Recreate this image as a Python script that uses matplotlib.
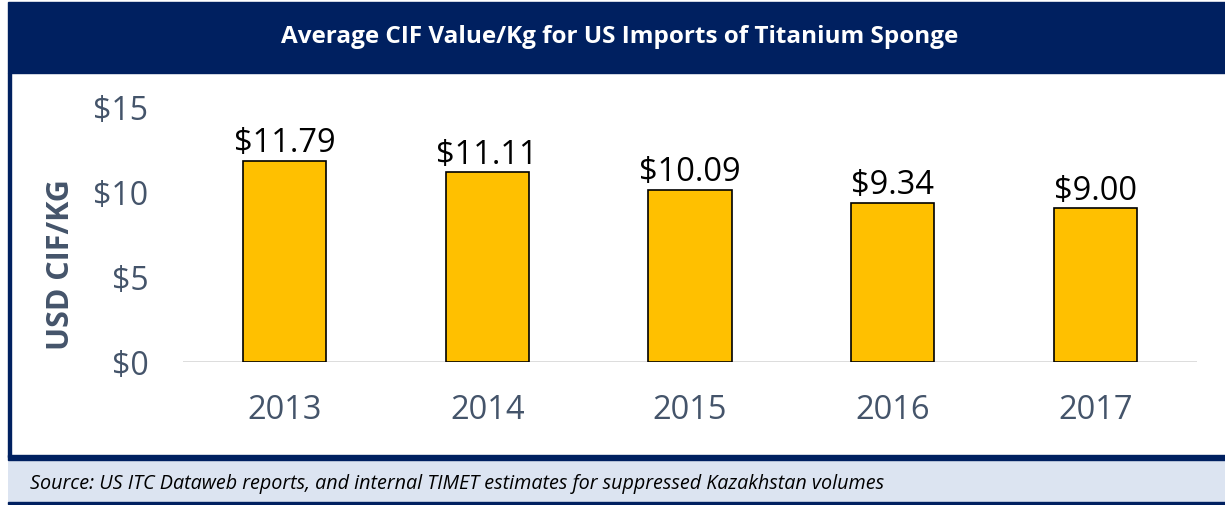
import matplotlib.pyplot as plt
from matplotlib.patches import Rectangle

years = ["2013", "2014", "2015", "2016", "2017"]
values = [11.79, 11.11, 10.09, 9.34, 9.00]
yticks = [0, 5, 10, 15]

navy = "#002060"
slate = "#44546A"
gold = "#FFC000"

plt.rcParams["font.family"] = ["Open Sans", "DejaVu Sans"]

W, H = 1225, 506
fig = plt.figure(figsize=(W / 100, H / 100), dpi=100)
fig.patch.set_facecolor("white")


def fx(px):
    return px / W


def fy(py):
    return 1 - py / H


# title bar
fig.patches.append(Rectangle((fx(8), fy(74)), 1 - fx(8), fy(3) - fy(74),
                             transform=fig.transFigure, color=navy, zorder=0))
fig.text(fx(620), fy(37), "Average CIF Value/Kg for US Imports of Titanium Sponge",
         color="white", fontsize=17.5, fontweight="bold", ha="center", va="center")

# left border
fig.patches.append(Rectangle((fx(8), fy(458)), fx(3), fy(74) - fy(458),
                             transform=fig.transFigure, color=navy, zorder=0))

# footer band
fig.patches.append(Rectangle((fx(8), fy(504)), 1 - fx(8), fy(458) - fy(504),
                             transform=fig.transFigure, facecolor="#DCE4F1",
                             edgecolor="none", zorder=0))
fig.patches.append(Rectangle((fx(8), fy(461)), 1 - fx(8), fy(456) - fy(461),
                             transform=fig.transFigure, color=navy, zorder=1))
fig.patches.append(Rectangle((fx(8), fy(505)), 1 - fx(8), fy(503) - fy(505),
                             transform=fig.transFigure, color=navy, zorder=1))
fig.text(fx(30), fy(484), "Source: US ITC Dataweb reports, and internal TIMET estimates for suppressed Kazakhstan volumes",
         fontsize=14.2, fontstyle="italic", color="black", ha="left", va="center")

# chart
ax = fig.add_axes([fx(183), fy(363), fx(1197) - fx(183), fy(107) - fy(363)])
ax.set_facecolor("none")
x = list(range(len(years)))
ax.bar(x, values, width=0.41, color=gold, edgecolor="black", linewidth=1.2, zorder=3)
for xi, v in zip(x, values):
    ax.text(xi, v + 0.1, f"${v:.2f}", ha="center", va="bottom", fontsize=23.5, color="black")

ax.set_xlim(-0.5, 4.5)
ax.set_ylim(0, 15)
ax.set_yticks(yticks)
ax.set_yticklabels([f"${t}" for t in yticks], fontsize=23, color=slate)
ax.set_xticks(x)
ax.set_xticklabels(years, fontsize=23.5, color=slate)
ax.tick_params(axis="both", length=0)
ax.tick_params(axis="y", pad=25)
ax.tick_params(axis="x", pad=22)
for s in ax.spines.values():
    s.set_visible(False)
ax.axhline(0, color="#D9D9D9", linewidth=2, zorder=2)

fig.text(fx(61), fy(265), "USD CIF/KG", rotation=90, fontsize=22, fontweight="bold",
         color=slate, ha="center", va="center")

fig.savefig("out.png", dpi=100)
